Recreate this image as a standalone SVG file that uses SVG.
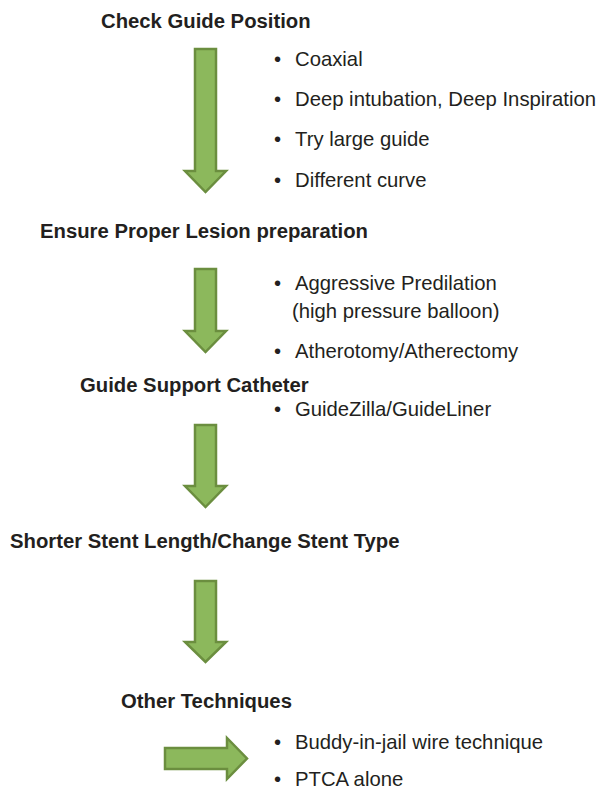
<svg xmlns="http://www.w3.org/2000/svg" width="600" height="791" viewBox="0 0 600 791">
<style>
.h{font-family:"Liberation Sans",Arial,sans-serif;font-weight:bold;font-size:20.3px;fill:#231f20}
.t{font-family:"Liberation Sans",Arial,sans-serif;font-size:20.3px;fill:#231f20}
.arr{fill:#8cb85c;stroke:#6b8e3f;stroke-width:2.5;stroke-linejoin:miter}
</style>
<rect width="600" height="791" fill="#fff"/>
<g id="connectors">
<polygon class="arr" points="195,49 216,49 216,171 226,171 205.5,192 185,171 195,171"/>
<polygon class="arr" points="195,269 216,269 216,331 226,331 205.5,352 185,331 195,331"/>
<polygon class="arr" points="195,425 216,425 216,486 226,486 205.5,507 185,486 195,486"/>
<polygon class="arr" points="195,581 216,581 216,642 226,642 205.5,662 185,642 195,642"/>
<polygon class="arr" points="165,748 227,748 227,738 247,758.5 227,779 227,769 165,769"/>
</g>
<g id="n1">
<text class="h" x="101" y="28">Check Guide Position</text>
<text class="t" x="274" y="66">•</text><text class="t" x="295" y="66">Coaxial</text>
<text class="t" x="274" y="106">•</text><text class="t" x="295" y="106">Deep intubation, Deep Inspiration</text>
<text class="t" x="274" y="146">•</text><text class="t" x="295" y="146">Try large guide</text>
<text class="t" x="274" y="187">•</text><text class="t" x="295" y="187">Different curve</text>
</g>
<g id="n2">
<text class="h" x="40" y="238">Ensure Proper Lesion preparation</text>
<text class="t" x="274" y="290">•</text><text class="t" x="295" y="290">Aggressive Predilation</text>
<text class="t" x="292" y="318">(high pressure balloon)</text>
<text class="t" x="274" y="358">•</text><text class="t" x="295" y="358">Atherotomy/Atherectomy</text>
</g>
<g id="n3">
<text class="h" x="80" y="392">Guide Support Catheter</text>
<text class="t" x="274" y="416">•</text><text class="t" x="295" y="416">GuideZilla/GuideLiner</text>
</g>
<g id="n4">
<text class="h" x="10" y="548">Shorter Stent Length/Change Stent Type</text>
</g>
<g id="n5">
<text class="h" x="121" y="708">Other Techniques</text>
<text class="t" x="274" y="749">•</text><text class="t" x="295" y="749">Buddy-in-jail wire technique</text>
<text class="t" x="274" y="786">•</text><text class="t" x="295" y="786">PTCA alone</text>
</g>
</svg>
